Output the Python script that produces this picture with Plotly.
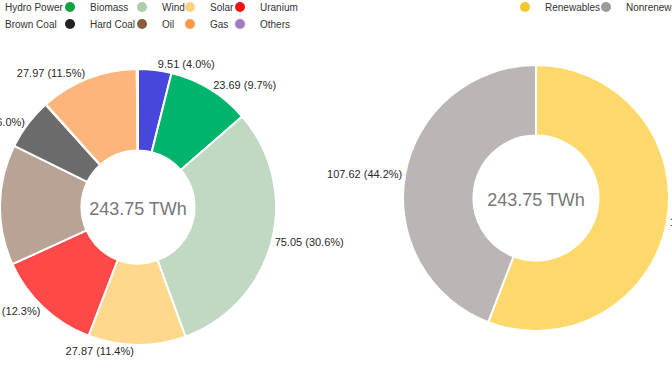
import plotly.graph_objects as go

FONT = "Liberation Sans, Arial, sans-serif"

# ---- data ----
sources = ["Hydro Power", "Biomass", "Wind", "Solar", "Uranium",
           "Brown Coal", "Hard Coal", "Oil", "Gas", "Others"]
source_values = [9.51, 23.69, 75.05, 27.87, 30.12, 34.36, 14.68, 0.15, 27.97, 0.35]
source_shares = [4.0, 9.7, 30.6, 11.4, 12.3, 14.1, 6.0, None, 11.5, None]  # as printed

groups = ["Renewables", "Nonrenewables"]
group_values = [136.13, 107.62]
group_shares = [55.8, 44.2]
unit = "TWh"

# ---- styles ----
slice_colors = ["#4747dc", "#00b56b", "#c1d8c3", "#fed88d", "#ff4848",
                "#b8a394", "#6b6b6b", "#a88a76", "#fdb57c", "#b6a1cf"]
legend_colors = ["#0b0bd2", "#12a33e", "#a9cea9", "#ffd27f", "#ee1313",
                 "#9d7f63", "#222222", "#8b5b3b", "#ff9a4d", "#a07cc0"]
group_slice_colors = ["#fdd96b", "#bbb5b4"]
group_legend_colors = ["#f6c52a", "#9e9a98"]


def fmt(v, p):
    return "" if p is None else f"{v:.2f} ({p:.1f}%)"


total_text = f"{sum(group_values):.2f} {unit}"
W, H = 672, 372

fig = go.Figure()
fig.add_trace(go.Pie(
    labels=sources, values=source_values, sort=False, direction="clockwise",
    rotation=0, hole=0.41,
    domain=dict(x=[0, 276 / W], y=[27 / H, 303 / H]),
    marker=dict(colors=slice_colors, line=dict(color="white", width=2)),
    text=[fmt(v, p) for v, p in zip(source_values, source_shares)],
    textinfo="text", textposition="outside",
    textfont=dict(size=11, color="#2a2a2a", family=FONT),
    title=dict(text=total_text, position="middle center",
               font=dict(size=18, color="#777777", family=FONT)),
    showlegend=False, hoverinfo="label+value+percent",
))
fig.add_trace(go.Pie(
    labels=groups, values=group_values, sort=False, direction="clockwise",
    rotation=0, hole=0.47,
    domain=dict(x=[403 / W, 669 / W], y=[41 / H, 307 / H]),
    marker=dict(colors=group_slice_colors, line=dict(color="white", width=2)),
    text=[fmt(v, p) for v, p in zip(group_values, group_shares)],
    textinfo="text", textposition="outside",
    textfont=dict(size=11, color="#2a2a2a", family=FONT),
    title=dict(text=total_text, position="middle center",
               font=dict(size=18, color="#777777", family=FONT)),
    showlegend=False, hoverinfo="label+value+percent",
))

# legend entries with round markers, one small legend per entry
names = sources + groups
colors = legend_colors + group_legend_colors
text_x = [5, 90, 162, 210, 260, 5, 90, 162, 210, 260, 545, 626]
row_y = [7] * 5 + [24] * 5 + [7, 7]
legends = {}
for i, (n, c) in enumerate(zip(names, colors)):
    key = "legend" if i == 0 else f"legend{i + 1}"
    fig.add_trace(go.Scatter(x=[None], y=[None], mode="markers", name=n,
                             marker=dict(size=10, color=c), legend=key,
                             hoverinfo="skip"))
    legends[key] = dict(x=(text_x[i] - 40) / W, y=1 - row_y[i] / H,
                        xanchor="left", yanchor="middle", orientation="v",
                        bgcolor="rgba(0,0,0,0)", borderwidth=0,
                        font=dict(size=10, color="#333333", family=FONT),
                        itemclick=False, itemdoubleclick=False)

fig.update_layout(
    width=W, height=H,
    margin=dict(l=0, r=0, t=0, b=0, autoexpand=False),
    paper_bgcolor="white", plot_bgcolor="white",
    xaxis=dict(visible=False), yaxis=dict(visible=False),
    font=dict(family=FONT),
    **legends,
)
fig.write_html("out.html", config={"displayModeBar": False},
               post_script="document.body.style.margin='0';document.body.style.overflow='hidden';")
